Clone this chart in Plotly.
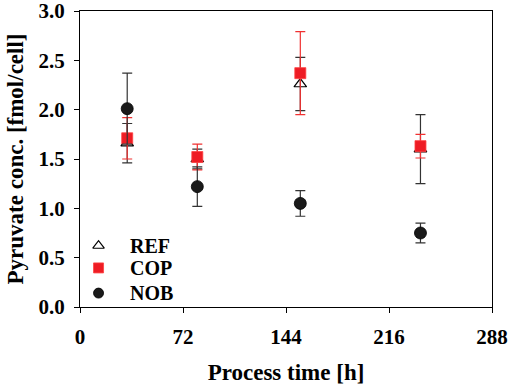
import plotly.graph_objects as go

time_h = [33, 82, 154, 238]
ref_vals = [1.66, 1.50, 2.26, 1.60]
ref_err = [0.20, 0.10, 0.27, 0.35]
cop_vals = [1.71, 1.52, 2.37, 1.63]
cop_err = [0.21, 0.13, 0.42, 0.12]
nob_vals = [2.01, 1.22, 1.05, 0.75]
nob_err = [0.36, 0.20, 0.13, 0.10]

x_ticks = [0, 72, 144, 216, 288]
y_ticks = [0.0, 0.5, 1.0, 1.5, 2.0, 2.5, 3.0]

series_names = ["REF", "COP", "NOB"]

font_family = "Liberation Serif"
red = "#ee1c24"

ref_marker = dict(symbol="triangle-up-open", size=11, color="black", line=dict(width=1.2, color="black"))
cop_marker = dict(symbol="square", size=11, color=red, line=dict(width=0.8, color="#ff4040"))
nob_marker = dict(symbol="circle", size=12, color="#1a1a1a", line=dict(width=0.8, color="black"))

fig = go.Figure()
fig.add_trace(go.Scatter(
    x=time_h, y=ref_vals, mode="markers", name="REF", marker=ref_marker,
    error_y=dict(type="data", array=ref_err, visible=True, color="#333333", thickness=1.2, width=5),
))
fig.add_trace(go.Scatter(
    x=time_h, y=cop_vals, mode="markers", name="COP", marker=cop_marker,
    error_y=dict(type="data", array=cop_err, visible=True, color="#f03030", thickness=1.2, width=5),
))
fig.add_trace(go.Scatter(
    x=time_h, y=nob_vals, mode="markers", name="NOB", marker=nob_marker,
    error_y=dict(type="data", array=nob_err, visible=True, color="#333333", thickness=1.2, width=5),
))

# manual legend (positions in axis-domain fractions)
leg_x_marker = 0.045
leg_x_text = 0.117
leg_rows = [0.207, 0.132, 0.047]
for name, mk, yy in zip(series_names, [ref_marker, cop_marker, nob_marker], leg_rows):
    m = dict(mk, size=10)
    fig.add_trace(go.Scatter(
        x=[leg_x_marker], y=[yy], mode="markers", marker=m,
        xaxis="x2", yaxis="y2", showlegend=False, hoverinfo="skip",
    ))
    fig.add_annotation(
        x=leg_x_text, y=yy, xref="x domain", yref="y domain",
        text=name, showarrow=False, xanchor="left", yanchor="middle",
        font=dict(family=font_family, size=20, color="black", weight="bold"),
    )

fig.update_layout(
    width=510, height=388,
    margin=dict(l=80, r=18, t=11, b=81),
    paper_bgcolor="white", plot_bgcolor="white",
    font=dict(family=font_family, color="black", size=21),
    showlegend=False,
    xaxis=dict(
        range=[0, 288], tickvals=x_ticks, ticktext=[str(v) for v in x_ticks],
        showgrid=False, zeroline=False, automargin=False, ticklabeloverflow="allow",
        showline=True, linecolor="black", linewidth=1.3, mirror=True,
        ticks="outside", ticklen=5, tickcolor="black", tickwidth=1.2,
        ticklabelstandoff=6,
        tickfont=dict(family=font_family, size=21, weight="bold"),
        title=dict(text="Process time [h]", font=dict(family=font_family, size=23, weight="bold"), standoff=15),
    ),
    yaxis=dict(
        range=[0, 3.0], tickvals=y_ticks, ticktext=[f"{v:.1f}" for v in y_ticks],
        showgrid=False, zeroline=False, automargin=False, ticklabeloverflow="allow",
        showline=True, linecolor="black", linewidth=1.3, mirror=True,
        ticks="outside", ticklen=5, tickcolor="black", tickwidth=1.2,
        ticklabelstandoff=5,
        tickfont=dict(family=font_family, size=21, weight="bold"),
        title=dict(text="Pyruvate conc. [fmol/cell]", font=dict(family=font_family, size=23, weight="bold"), standoff=8),
    ),
    xaxis2=dict(range=[0, 1], overlaying="x", visible=False, fixedrange=True),
    yaxis2=dict(range=[0, 1], overlaying="y", visible=False, fixedrange=True),
)

fig.write_html("out.html", config={"displayModeBar": False},
               post_script="document.body.style.margin='0';")
